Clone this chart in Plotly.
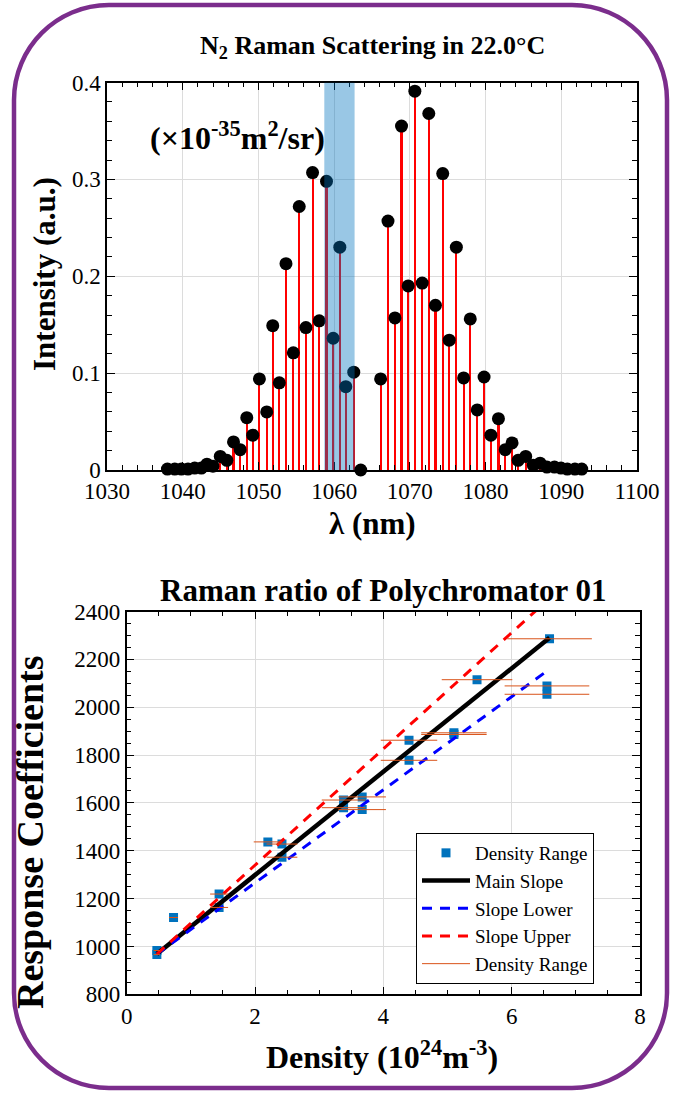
import plotly.graph_objects as go

# ---------------- Top chart data ----------------
wavelength = [1037.98, 1038.95, 1039.82, 1040.70, 1041.58, 1042.46, 1043.20, 1043.99,
              1044.96, 1045.83, 1046.71, 1047.59, 1048.46, 1049.25, 1050.13, 1051.10,
              1051.89, 1052.76, 1053.64, 1054.61, 1055.39, 1056.27, 1057.15, 1058.03,
              1058.99, 1059.87, 1060.75, 1061.54, 1062.59, 1063.51,
              1066.14, 1067.11, 1068.03, 1068.90, 1069.78, 1070.66, 1071.63, 1072.50,
              1073.38, 1074.34, 1075.20, 1076.14, 1077.10, 1077.98, 1078.90, 1079.80,
              1080.70, 1081.70, 1082.60, 1083.50, 1084.30, 1085.30, 1086.30, 1087.20,
              1088.10, 1089.10, 1089.96, 1090.80, 1091.80, 1092.70]
intensity = [0.001, 0.001, 0.001, 0.001, 0.002, 0.002, 0.006, 0.004,
             0.014, 0.010, 0.029, 0.021, 0.054, 0.036, 0.094, 0.060,
             0.149, 0.090, 0.213, 0.121, 0.272, 0.147, 0.307, 0.154,
             0.298, 0.136, 0.230, 0.086, 0.101, 0.000,
             0.094, 0.257, 0.157, 0.355, 0.190, 0.391, 0.193, 0.368,
             0.170, 0.306, 0.134, 0.230, 0.095, 0.156, 0.062, 0.096,
             0.036, 0.053, 0.021, 0.028, 0.010, 0.014, 0.005, 0.007,
             0.003, 0.003, 0.002, 0.001, 0.001, 0.001]
band = [1058.7, 1062.7]

# ---------------- Bottom chart data ----------------
density = [0.47, 0.47, 0.73, 1.44, 1.44, 2.20, 2.42, 2.42, 3.38, 3.38,
           3.67, 3.67, 4.40, 4.40, 5.10, 5.10, 5.46, 6.55, 6.55, 6.59]
coeff = [983, 966, 1121, 1219, 1163, 1437, 1428, 1373, 1612, 1580,
         1625, 1572, 1862, 1778, 1893, 1886, 2115, 2089, 2054, 2286]
density_err = [0.05, 0.05, 0.07, 0.14, 0.14, 0.22, 0.24, 0.24, 0.34, 0.34,
               0.37, 0.37, 0.44, 0.44, 0.51, 0.51, 0.55, 0.66, 0.66, 0.66]
coeff_err = [8] * len(coeff)

main_x, main_y = [0.47, 6.59], [968, 2290]
lower_x, lower_y = [0.47, 6.57], [968, 2155]
upper_x, upper_y = [0.47, 6.59], [968, 2455]

W, H = 679, 1095
FONT = "Liberation Serif, Times New Roman, serif"
MBLUE = "rgb(0,114,189)"
MORANGE = "rgb(217,83,25)"
PURPLE = "#7B2D8C"


def px(x):
    return x / W


def py(y):
    return 1 - y / H


fig = go.Figure()

# stems
fig.add_trace(go.Bar(x=wavelength, y=intensity, width=0.28, marker=dict(color="red", line=dict(width=0)),
                     xaxis="x", yaxis="y", showlegend=False))
fig.add_trace(go.Scatter(x=wavelength, y=intensity, mode="markers",
                         marker=dict(color="black", size=13, line=dict(width=0)),
                         cliponaxis=False, xaxis="x", yaxis="y", showlegend=False))

# bottom chart
fig.add_trace(go.Scatter(x=density, y=coeff, mode="markers", name="Density Range",
                         marker=dict(symbol="square", color=MBLUE, size=9),
                         error_y=dict(type="data", array=coeff_err, color=MBLUE, thickness=1.5, width=3),
                         xaxis="x2", yaxis="y2"))
fig.add_trace(go.Scatter(x=main_x, y=main_y, mode="lines", name="Main Slope",
                         line=dict(color="black", width=4.5), xaxis="x2", yaxis="y2"))
fig.add_trace(go.Scatter(x=lower_x, y=lower_y, mode="lines", name="Slope Lower",
                         line=dict(color="blue", width=3, dash="10px,8px"), xaxis="x2", yaxis="y2"))
fig.add_trace(go.Scatter(x=upper_x, y=upper_y, mode="lines", name="Slope Upper",
                         line=dict(color="red", width=3, dash="10px,8px"), xaxis="x2", yaxis="y2"))
hx, hy = [], []
for d, c, e in zip(density, coeff, density_err):
    hx += [d - e, d + e, None]
    hy += [c, c, None]
fig.add_trace(go.Scatter(x=hx, y=hy, mode="lines", name="Density Range",
                         line=dict(color=MORANGE, width=1), xaxis="x2", yaxis="y2"))

axis_common = dict(showline=True, linecolor="black", linewidth=1.5, mirror="allticks",
                   ticks="inside", tickcolor="black", tickwidth=1.2, ticklen=8,
                   showgrid=True, gridcolor="rgb(220,220,220)", gridwidth=1, zeroline=False,
                   automargin=False,
                   tickfont=dict(family=FONT, size=23, color="black"))

fig.update_layout(
    width=W, height=H, margin=dict(l=0, r=0, t=0, b=0, pad=0, autoexpand=False),
    paper_bgcolor="white", plot_bgcolor="white",
    font=dict(family=FONT, color="black"),
    bargap=0,
    xaxis=dict(domain=[px(107), px(637)], range=[1030, 1100], dtick=10, anchor="y",
               minor=dict(dtick=2, ticks="inside", ticklen=5, tickcolor="black", showgrid=False),
               **axis_common),
    yaxis=dict(domain=[py(470), py(82.5)], range=[0, 0.4], dtick=0.1, anchor="x",
               tickformat=".1~f",
               minor=dict(dtick=0.02, ticks="inside", ticklen=5, tickcolor="black", showgrid=False),
               **axis_common),
    xaxis2=dict(domain=[px(126.7), px(640)], range=[0, 8], dtick=2, anchor="y2",
                minor=dict(dtick=0.5, ticks="inside", ticklen=5, tickcolor="black", showgrid=False),
                **axis_common),
    yaxis2=dict(domain=[py(994.3), py(611.5)], range=[800, 2400], dtick=200, anchor="x2",
                minor=dict(dtick=50, ticks="inside", ticklen=5, tickcolor="black", showgrid=False),
                **axis_common),
    legend=dict(x=px(416), y=py(833), xanchor="left", yanchor="top",
                bgcolor="white", bordercolor="black", borderwidth=1,
                font=dict(family=FONT, size=19, color="black"),
                itemwidth=48, tracegroupgap=0),
)

shapes = [
    dict(type="rect", xref="x", yref="y", x0=band[0], x1=band[1], y0=0, y1=0.4,
         fillcolor="rgba(0,114,189,0.4)", line=dict(width=0), layer="above"),
]
# rounded purple frame (paper coords, cubic corners)
L, R, T, B, r = 14, 667, 5, 1088, 95
c = 0.5523 * r
pts = (f"M {px(L + r)},{py(T)} L {px(R - r)},{py(T)} "
       f"C {px(R - r + c)},{py(T)} {px(R)},{py(T + r - c)} {px(R)},{py(T + r)} "
       f"L {px(R)},{py(B - r)} "
       f"C {px(R)},{py(B - r + c)} {px(R - r + c)},{py(B)} {px(R - r)},{py(B)} "
       f"L {px(L + r)},{py(B)} "
       f"C {px(L + r - c)},{py(B)} {px(L)},{py(B - r + c)} {px(L)},{py(B - r)} "
       f"L {px(L)},{py(T + r)} "
       f"C {px(L)},{py(T + r - c)} {px(L + r - c)},{py(T)} {px(L + r)},{py(T)} Z")
shapes.append(dict(type="path", xref="paper", yref="paper", path=pts,
                   line=dict(color=PURPLE, width=4.5), fillcolor="rgba(0,0,0,0)", layer="above"))
fig.update_layout(shapes=shapes)

ann = [
    dict(text="<b>N<sub>2</sub> Raman Scattering in 22.0°C</b>", x=px(372), y=py(47), size=26),
    dict(text="<b>(×10<sup>-35</sup>m<sup>2</sup>/sr)</b>", x=px(238), y=py(136), size=32),
    dict(text="<b>Intensity (a.u.)</b>", x=px(44), y=py(274), size=31, angle=-90),
    dict(text="<b>λ (nm)</b>", x=px(372), y=py(523), size=31),
    dict(text="<b>Raman ratio of Polychromator 01</b>", x=px(383), y=py(590), size=31),
    dict(text="<b>Response Coefficients</b>", x=px(30), y=py(832), size=38, angle=-90),
    dict(text="<b>Density (10<sup>24</sup>m<sup>-3</sup>)</b>", x=px(382), y=py(1055), size=32),
]
fig.update_layout(annotations=[
    dict(text=a["text"], x=a["x"], y=a["y"], xref="paper", yref="paper", showarrow=False,
         xanchor="center", yanchor="middle", textangle=a.get("angle", 0),
         font=dict(family=FONT, size=a["size"], color="black"))
    for a in ann
])

fig.write_html("out.html")
